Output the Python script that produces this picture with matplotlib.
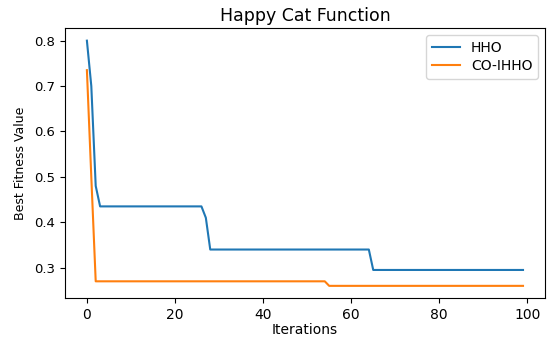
import matplotlib
matplotlib.use("Agg")
import matplotlib.pyplot as plt
import numpy as np

iters = np.arange(100)

# HHO convergence: breakpoints
hho = np.empty(100)
hho[0] = 0.80; hho[1] = 0.70; hho[2] = 0.48
hho[3:27] = 0.435
hho[27] = 0.41
hho[28:65] = 0.34
hho[65:] = 0.295

co_ihho = np.empty(100)
co_ihho[0] = 0.735; co_ihho[1] = 0.50
co_ihho[2:55] = 0.27
co_ihho[55:] = 0.26

fig = plt.figure(figsize=(5.47, 3.38), dpi=100)
ax = fig.add_axes([0.119, 0.118, 0.877, 0.798])

ax.plot(iters, hho, label="HHO")
ax.plot(iters, co_ihho, label="CO-IHHO")

ax.set_title("Happy Cat Function", fontsize=12.5, pad=5)
ax.set_xlabel("Iterations", labelpad=1)
ax.set_ylabel("Best Fitness Value", fontsize=9, labelpad=5)
ax.tick_params(axis="y", labelsize=9.5)
ax.legend(loc="upper right", labelspacing=0.3, borderaxespad=0.5)

plt.savefig("out.png")
